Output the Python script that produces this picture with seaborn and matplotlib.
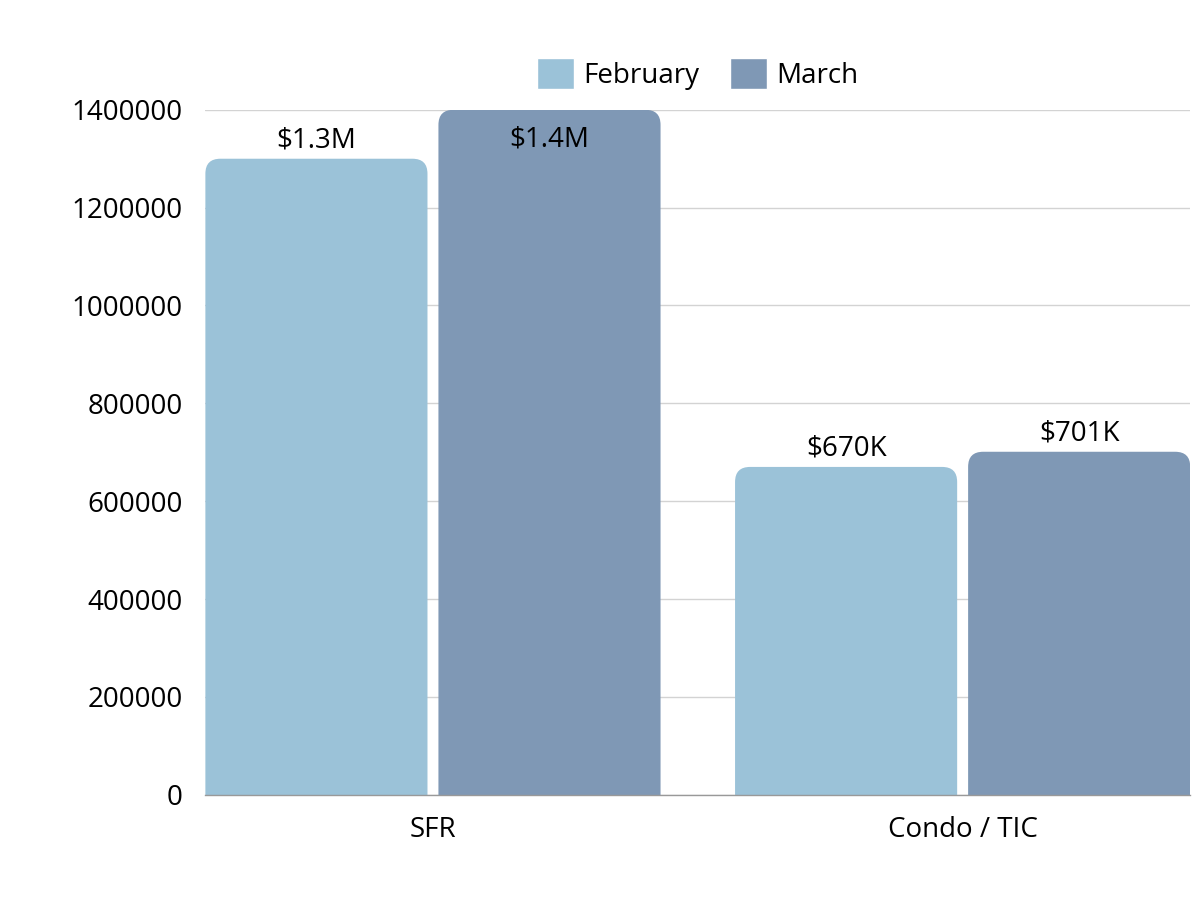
import pandas as pd
import numpy as np
import matplotlib.pyplot as plt
import seaborn as sns
from matplotlib.patches import FancyBboxPatch

sns.set_theme(style="white")
plt.rcParams['font.family'] = ['Open Sans', 'DejaVu Sans']

# --- DATA ---
categories = ["SFR", "Condo / TIC"]
months = ["February", "March"]
feb_values = [1300000, 670000]
mar_values = [1400000, 701000]
value_labels = [["$1.3M", "$670K"], ["$1.4M", "$701K"]]

df = pd.DataFrame({
    "Type": categories * 2,
    "Month": [months[0]] * 2 + [months[1]] * 2,
    "Price": feb_values + mar_values,
})

colors = {"February": "#9BC2D8", "March": "#7F98B5"}
FS = 20

fig = plt.figure(figsize=(12, 9), dpi=100)
ax = fig.add_axes([0.171, 0.117, 0.821, 0.761])

sns.barplot(data=df, x="Type", y="Price", hue="Month", palette=colors,
            width=0.88, gap=0.047, ax=ax, saturation=1, legend=True)

ax.set_xlim(-0.43, 1.43)
ax.set_ylim(0, 1400000)
ax.set_yticks(np.arange(0, 1400001, 200000))
ax.set_yticklabels([str(v) for v in range(0, 1400001, 200000)])

# swap square bars for bars with rounded tops
x_per_px = (1.43 + 0.43) / (0.821 * 1200)
y_per_px = 1400000 / (0.761 * 900)
r = 15 * x_per_px
aspect = y_per_px / x_per_px
bars = list(ax.patches)
for p in bars:
    x, w, h = p.get_x(), p.get_width(), p.get_height()
    if w == 0 or h == 0:
        continue
    fc = p.get_facecolor()
    p.set_visible(False)
    rb = FancyBboxPatch((x, -40000), w, h + 40000,
                        boxstyle=f"round,pad=0,rounding_size={r}",
                        mutation_aspect=aspect, facecolor=fc,
                        edgecolor="none", zorder=2)
    ax.add_patch(rb)

# value labels
for i, vals in enumerate([feb_values, mar_values]):
    for j, v in enumerate(vals):
        xc = j + (i - 0.5) * 0.44
        y = min(v + 18 * y_per_px, 1400000 - 30 * y_per_px)
        ax.text(xc, y, value_labels[i][j], ha="center", va="center",
                fontsize=FS, color="black", zorder=3)

ax.grid(axis="y", color="#d3d3d3", linewidth=1)
ax.set_axisbelow(True)
for s in ["left", "right", "top"]:
    ax.spines[s].set_visible(False)
ax.spines["bottom"].set_color("#999999")
ax.spines["bottom"].set_linewidth(1)
ax.set_xlabel("")
ax.set_ylabel("")
ax.tick_params(axis="y", labelsize=FS, colors="black", length=0, pad=16)
ax.tick_params(axis="x", labelsize=FS, colors="black", length=0, pad=15)

ax.legend(loc="lower center", bbox_to_anchor=(0.5, 0.993), ncol=2, frameon=False,
          fontsize=FS, handlelength=1.33, handleheight=1.33, columnspacing=1.1,
          handletextpad=0.35, labelcolor="black")

fig.savefig("out.png", dpi=100)
